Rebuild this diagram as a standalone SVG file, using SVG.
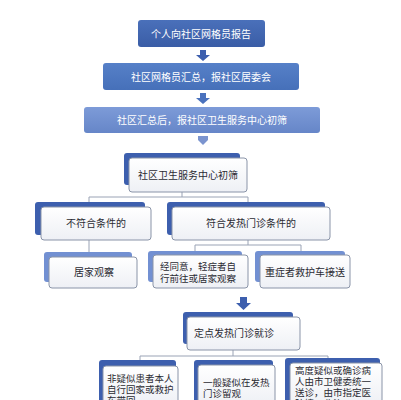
<svg xmlns="http://www.w3.org/2000/svg" width="401" height="400" viewBox="0 0 401 400">
<defs>
<linearGradient id="g1" x1="0" y1="0" x2="0" y2="1"><stop offset="0" stop-color="#4a70ba"/><stop offset="1" stop-color="#3a5da6"/></linearGradient>
<linearGradient id="g2" x1="0" y1="0" x2="0" y2="1"><stop offset="0" stop-color="#5680c8"/><stop offset="1" stop-color="#4670b9"/></linearGradient>
<linearGradient id="g3" x1="0" y1="0" x2="0" y2="1"><stop offset="0" stop-color="#7d9bd8"/><stop offset="1" stop-color="#6686c8"/></linearGradient>
<linearGradient id="gw" x1="0" y1="0" x2="0" y2="1"><stop offset="0" stop-color="#ffffff"/><stop offset="1" stop-color="#eef0f5"/></linearGradient>
</defs>
<style>
.top{font-family:"Noto Sans CJK SC","Noto Sans",sans-serif;font-size:10px;fill:#ffffff;text-anchor:middle}
.t{font-family:"Noto Sans CJK SC","Noto Sans",sans-serif;font-size:10px;fill:#2b2b33;text-anchor:middle}
.tl{font-family:"Noto Sans CJK SC","Noto Sans",sans-serif;font-size:9.5px;fill:#2b2b33}
.wb{fill:url(#gw);stroke:#8a94a8;stroke-width:1}
.sd{fill:#3d5fae}
.sl{fill:#7290d2}
.ln{fill:none;stroke:#9aa3b5;stroke-width:1}
</style>
<rect width="401" height="400" fill="#ffffff"/>

<g id="connectors">
<path d="M200,50 h6 v5 h4 l-7,6 l-7,-6 h4 z" fill="#3d5fae"/>
<path d="M200,93 h6 v5 h4 l-7,6 l-7,-6 h4 z" fill="#4a72bd"/>
<path d="M198,136 h10 v4 l-5,5 l-5,-5 z" fill="#7b94cf"/>
<path d="M182,192 V197 M89,207 V197 H248 V207" class="ln"/>
<path d="M89,240 V257" class="ln"/>
<path d="M248,240 V245 M195,255 V245 H301 V255" class="ln"/>
<path d="M240,297 h7 v6 h4 l-7.5,7 l-7.5,-7 h4 z" fill="#3d5fae"/>
<path d="M233,350 V356 M140,366 V356 H328 V363" class="ln"/>
</g>

<g id="n1">
<rect x="138" y="20" width="127" height="27" rx="3" fill="url(#g1)"/>
<text class="top" x="201" y="37.5">个人向社区网格员报告</text>
</g>
<g id="n2">
<rect x="103" y="63" width="196" height="27" rx="3" fill="url(#g2)"/>
<text class="top" x="201" y="80.5">社区网格员汇总，报社区居委会</text>
</g>
<g id="n3">
<rect x="84" y="107" width="236" height="26" rx="3" fill="url(#g3)"/>
<text class="top" x="202" y="124">社区汇总后，报社区卫生服务中心初筛</text>
</g>

<g id="n4">
<rect class="sd" x="124" y="153" width="116" height="32" rx="3"/>
<rect class="wb" x="129" y="158" width="118" height="34" rx="3"/>
<text class="t" x="188" y="179">社区卫生服务中心初筛</text>
</g>
<g id="n5">
<rect class="sd" x="35" y="202" width="110" height="33" rx="3"/>
<rect class="wb" x="41" y="207" width="110" height="33" rx="3"/>
<text class="t" x="96" y="227">不符合条件的</text>
</g>
<g id="n6">
<rect class="sd" x="167" y="202" width="158" height="33" rx="3"/>
<rect class="wb" x="172" y="207" width="158" height="33" rx="3"/>
<text class="t" x="251" y="227">符合发热门诊条件的</text>
</g>
<g id="n7">
<rect class="sl" x="44" y="252" width="88" height="30" rx="3"/>
<rect class="wb" x="49" y="257" width="88" height="31" rx="3"/>
<text class="t" x="94" y="276">居家观察</text>
</g>
<g id="n8">
<rect class="sl" x="148" y="251" width="94" height="31" rx="3"/>
<rect class="wb" x="153" y="255" width="95" height="33" rx="3"/>
<text class="tl" x="160" y="269.5" font-size="10">经同意，轻症者自</text>
<text class="tl" x="160" y="281.5" font-size="10">行前往或居家观察</text>
</g>
<g id="n9">
<rect class="sl" x="255" y="251" width="90" height="31" rx="3"/>
<rect class="wb" x="260" y="255" width="90" height="33" rx="3"/>
<text class="t" x="305" y="276">重症者救护车接送</text>
</g>
<g id="n10">
<rect class="sd" x="183" y="312" width="110" height="32" rx="3"/>
<rect class="wb" x="187" y="317" width="113" height="33" rx="3"/>
<text class="t" x="234" y="337">定点发热门诊就诊</text>
</g>
<g id="n11">
<rect class="sd" x="99" y="360" width="77" height="45" rx="3"/>
<rect class="wb" x="103" y="366" width="75" height="40" rx="3"/>
<text class="tl" x="107" y="382">非疑似患者本人</text>
<text class="tl" x="107" y="393">自行回家或救护</text>
<text class="tl" x="107" y="404">车带回</text>
</g>
<g id="n12">
<rect class="sd" x="194" y="360" width="79" height="45" rx="3"/>
<rect class="wb" x="198" y="365" width="77" height="40" rx="3"/>
<text class="tl" x="203" y="386">一般疑似在发热</text>
<text class="tl" x="203" y="397">门诊留观</text>
</g>
<g id="n13">
<rect class="sd" x="285" y="358" width="95" height="45" rx="3"/>
<rect class="wb" x="290" y="363" width="92" height="42" rx="3"/>
<text class="tl" x="295" y="374">高度疑似或确诊病</text>
<text class="tl" x="295" y="385">人由市卫健委统一</text>
<text class="tl" x="295" y="396">送诊，由市指定医</text>
<text class="tl" x="295" y="407">院接，收治</text>
</g>
</svg>
